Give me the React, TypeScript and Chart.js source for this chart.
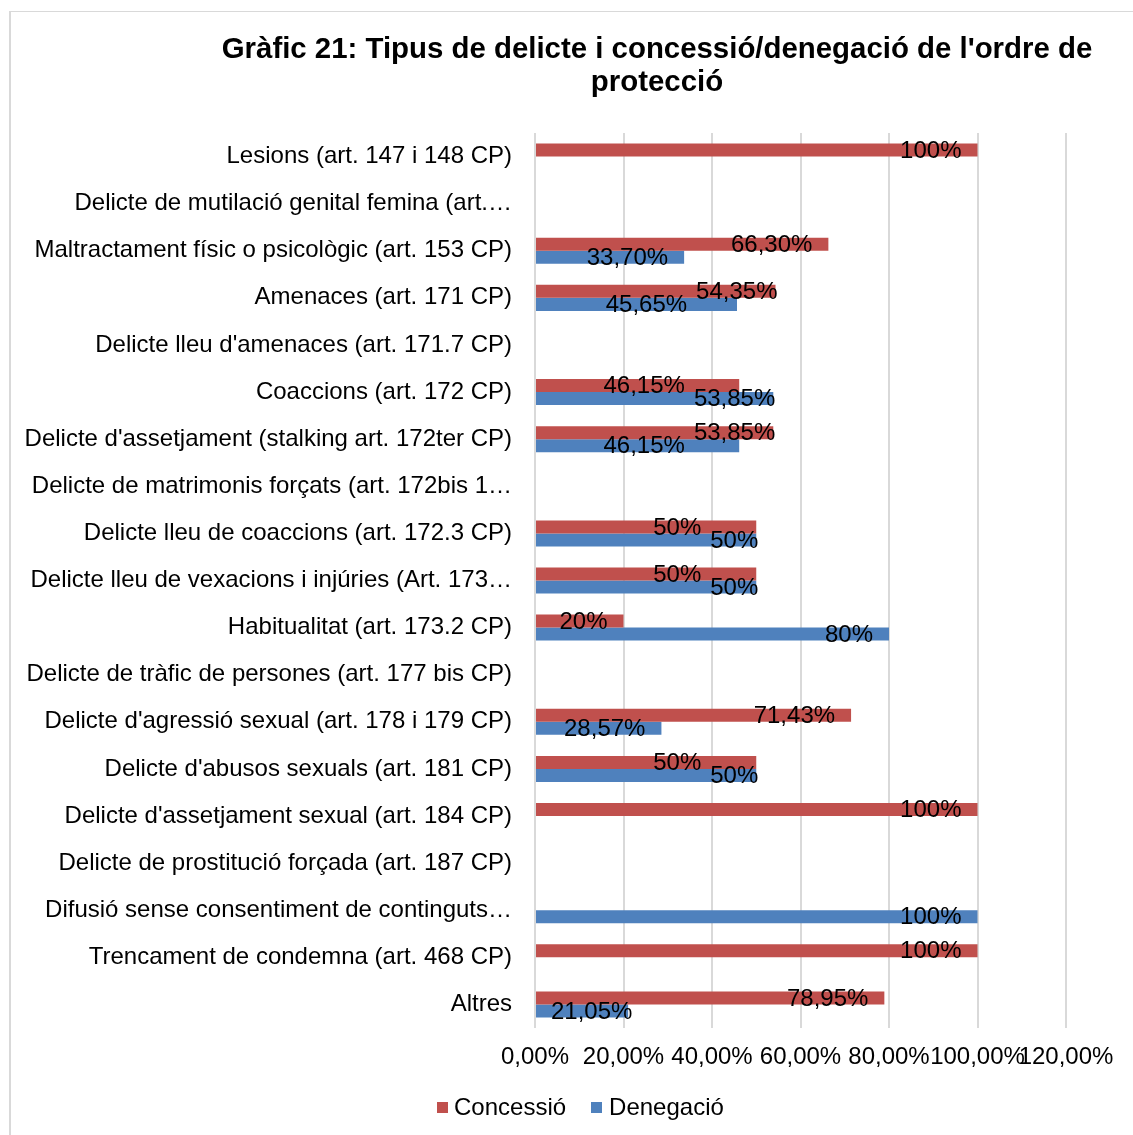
import React, { useEffect, useRef } from "react";
import { Chart, registerables } from "chart.js";

Chart.register(...registerables);

const categories = [
  "Lesions (art. 147 i 148 CP)",
  "Delicte de mutilació genital femina (art.…",
  "Maltractament físic o psicològic (art. 153 CP)",
  "Amenaces (art. 171 CP)",
  "Delicte lleu d'amenaces (art. 171.7 CP)",
  "Coaccions (art. 172 CP)",
  "Delicte d'assetjament (stalking art. 172ter CP)",
  "Delicte de matrimonis forçats (art. 172bis 1…",
  "Delicte lleu de coaccions (art. 172.3 CP)",
  "Delicte lleu de vexacions i injúries (Art. 173…",
  "Habitualitat (art. 173.2 CP)",
  "Delicte de tràfic de persones (art. 177 bis CP)",
  "Delicte d'agressió sexual (art. 178 i 179 CP)",
  "Delicte d'abusos sexuals (art. 181 CP)",
  "Delicte d'assetjament sexual (art. 184 CP)",
  "Delicte de prostitució forçada (art. 187 CP)",
  "Difusió sense consentiment de continguts…",
  "Trencament de condemna (art. 468 CP)",
  "Altres",
];

const concessio: (number | null)[] = [
  100, null, 66.3, 54.35, null, 46.15, 53.85, null, 50, 50, 20, null, 71.43, 50, 100, null, null, 100, 78.95,
];

const denegacio: (number | null)[] = [
  null, null, 33.7, 45.65, null, 53.85, 46.15, null, 50, 50, 80, null, 28.57, 50, null, null, 100, null, 21.05,
];

const xTicks = [0, 20, 40, 60, 80, 100, 120];

const seriesNames = ["Concessió", "Denegació"];
const RED = "#C0504D";
const BLUE = "#4F81BD";
const FONT = "'Liberation Sans', Arial, sans-serif";

function fmtLabel(v: number): string {
  if (Number.isInteger(v)) return `${v}%`;
  return v.toFixed(2).replace(".", ",") + "%";
}

const labelPlugin = {
  id: "barLabels",
  afterDatasetsDraw(chart: any) {
    const ctx = chart.ctx;
    ctx.save();
    ctx.font = `24px ${FONT}`;
    ctx.fillStyle = "#000";
    ctx.textBaseline = "middle";
    ctx.textAlign = "left";
    const n = chart.data.labels.length;
    const metas = chart.data.datasets.map((_: any, di: number) => chart.getDatasetMeta(di));
    for (let i = 0; i < n; i++) {
      const items: any[] = [];
      chart.data.datasets.forEach((ds: any, di: number) => {
        const v = ds.data[i];
        if (v === null || v === undefined) return;
        const el = metas[di].data[i];
        const t = fmtLabel(v);
        const w = ctx.measureText(t).width;
        let left = el.x - 16 - w;
        if (left < el.base + 15) left = el.base + 15;
        items.push({ t, w, left, el, v, di });
      });
      if (items.length === 2) {
        const [a, b] = items;
        const overlap = a.left < b.left + b.w && b.left < a.left + a.w;
        if (overlap) {
          // longer bar's label (blue on ties) sits at the bar end, the other is pushed left
          const first = a.v > b.v ? a : b;
          const other = first === a ? b : a;
          first.left = first.el.x + 2 - first.w;
          other.left = first.left - 9 - other.w;
        }
      }
      items.forEach((it) => ctx.fillText(it.t, it.left, it.el.y + 1));
    }
    ctx.restore();
  },
};

export default function App() {
  const ref = useRef<HTMLCanvasElement | null>(null);

  useEffect(() => {
    if (!ref.current) return;
    Chart.defaults.font.family = FONT;
    const chart = new Chart(ref.current, {
      type: "bar",
      data: {
        labels: categories,
        datasets: [
          { label: seriesNames[0], data: concessio, backgroundColor: RED, barPercentage: 1, categoryPercentage: 0.5525 },
          { label: seriesNames[1], data: denegacio, backgroundColor: BLUE, barPercentage: 1, categoryPercentage: 0.5525 },
        ],
      },
      options: {
        indexAxis: "y",
        animation: false,
        responsive: true,
        maintainAspectRatio: false,
        layout: { padding: { left: 0, right: 67, top: 133, bottom: 57 } },
        plugins: {
          legend: { display: false },
          title: { display: false },
          tooltip: { enabled: false },
        },
        scales: {
          x: {
            min: 0,
            max: 120,
            afterBuildTicks: (scale: any) => {
              scale.ticks = xTicks.map((v) => ({ value: v }));
            },
            afterFit: (scale: any) => {
              scale.height = 50;
              scale.paddingLeft = 0;
              scale.paddingRight = 0;
            },
            grid: { color: "#d9d9d9", lineWidth: 2, drawTicks: false },
            border: { display: false },
            ticks: {
              autoSkip: false,
              maxRotation: 0,
              minRotation: 0,
              padding: 15,
              color: "#000",
              font: { size: 24 },
              callback: (v: any) => Number(v).toFixed(2).replace(".", ",") + "%",
            },
          },
          y: {
            afterFit: (scale: any) => {
              scale.width = 535;
              scale.paddingTop = 0;
              scale.paddingBottom = 0;
            },
            grid: { display: false, drawTicks: false },
            border: { display: false },
            ticks: { autoSkip: false, padding: 23, color: "#000", font: { size: 24 } },
          },
        },
      },
      plugins: [labelPlugin],
    });
    return () => chart.destroy();
  }, []);

  return (
    <div style={{ position: "absolute", left: 0, top: 0, width: 1133, height: 1135, overflow: "hidden", background: "#fff" }}>
      <div
        style={{
          position: "absolute",
          left: 9,
          top: 11,
          width: 1300,
          height: 1300,
          borderLeft: "2px solid #d9d9d9",
          borderTop: "1px solid #d9d9d9",
        }}
      />
      <div style={{ position: "absolute", left: 0, top: 0, width: 1133, height: 1135 }}>
        <canvas ref={ref} />
      </div>
      <div
        style={{
          position: "absolute",
          left: 157,
          top: 31,
          width: 1000,
          textAlign: "center",
          fontFamily: FONT,
          fontWeight: "bold",
          fontSize: 29.4,
          lineHeight: "33px",
          color: "#000",
          whiteSpace: "nowrap",
        }}
      >
        Gràfic 21: Tipus de delicte i concessió/denegació de l'ordre de
        <br />
        protecció
      </div>
      <div
        style={{
          position: "absolute",
          left: 437,
          top: 1092,
          display: "flex",
          alignItems: "center",
          fontFamily: FONT,
          fontSize: 24,
          lineHeight: "30px",
          color: "#000",
          whiteSpace: "nowrap",
        }}
      >
        <span style={{ display: "inline-block", width: 11, height: 11, background: RED, marginRight: 6 }} />
        <span style={{ marginRight: 25 }}>{seriesNames[0]}</span>
        <span style={{ display: "inline-block", width: 11, height: 11, background: BLUE, marginRight: 7 }} />
        <span>{seriesNames[1]}</span>
      </div>
    </div>
  );
}
